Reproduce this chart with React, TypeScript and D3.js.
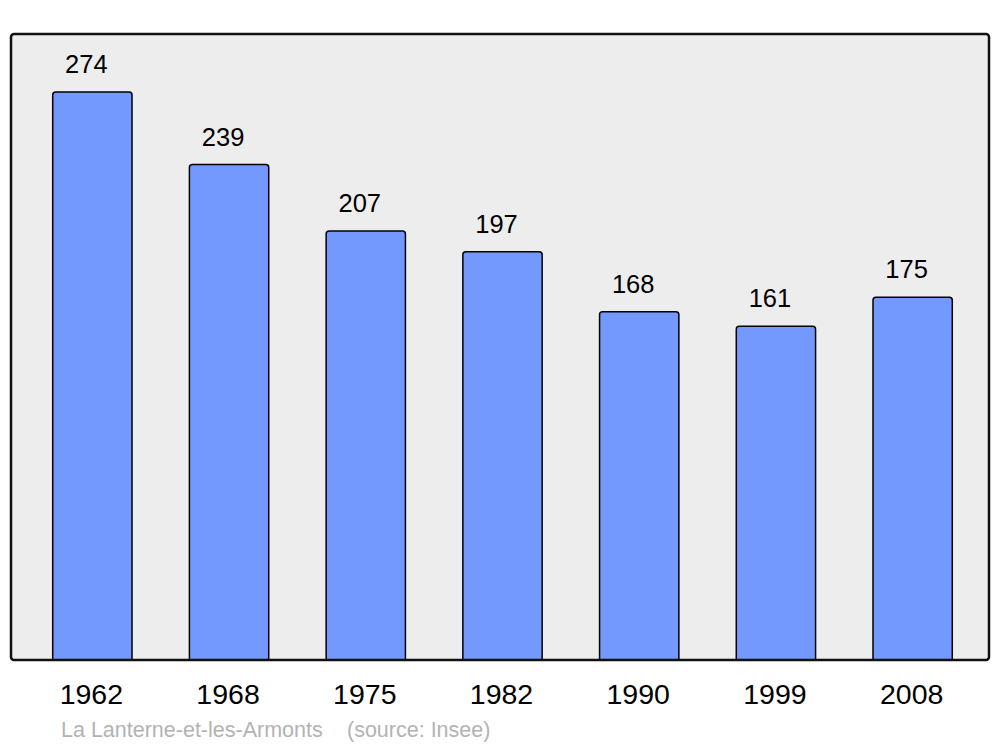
import React from "react";
import * as d3 from "d3";

const years = ["1962", "1968", "1975", "1982", "1990", "1999", "2008"];
const population = [274, 239, 207, 197, 168, 161, 175];
const caption = "La Lanterne-et-les-Armonts";
const source = "(source: Insee)";

export default function App() {
  const W = 1000, H = 747;
  const panel = { x: 11, y: 34, w: 978, h: 626 };
  const x = d3.scaleBand<string>().domain(years).range([24, 981]).paddingInner(0.42).paddingOuter(0.21);
  const y = d3.scaleLinear().domain([0, 302]).range([660, 34]);
  const font = "'Liberation Sans', Arial, sans-serif";
  return (
    <svg width={W} height={H} style={{ position: "absolute", left: 0, top: 0 }}>
      <rect x={panel.x} y={panel.y} width={panel.w} height={panel.h} rx={3} ry={3} fill="#ededed" stroke="none" />
      {population.map((v, i) => (
        <g key={years[i]}>
          <rect x={x(years[i])} y={y(v)} width={x.bandwidth()} height={y(0) - y(v) + 3} rx={3} ry={3}
            fill="#7399ff" stroke="#000" strokeWidth={1.5} />
          <text x={x(years[i])! + x.bandwidth() / 2 - 6} y={y(v) - 19} textAnchor="middle" fontFamily={font} fontSize={25.5} fill="#000">{v}</text>
          <text x={x(years[i])! + x.bandwidth() / 2 - 1} y={704} textAnchor="middle" fontFamily={font} fontSize={28.5} fill="#000">{years[i]}</text>
        </g>
      ))}
      <rect x={0} y={661} width={W} height={10} fill="#fff" />
      <rect x={panel.x} y={panel.y} width={panel.w} height={panel.h} rx={3} ry={3} fill="none" stroke="#111" strokeWidth={2.5} />
      <text x={61} y={737} fontFamily={font} fontSize={21.5} fill="#b3b3b3">{caption}</text>
      <text x={347} y={737} fontFamily={font} fontSize={21.5} fill="#b3b3b3">{source}</text>
    </svg>
  );
}
